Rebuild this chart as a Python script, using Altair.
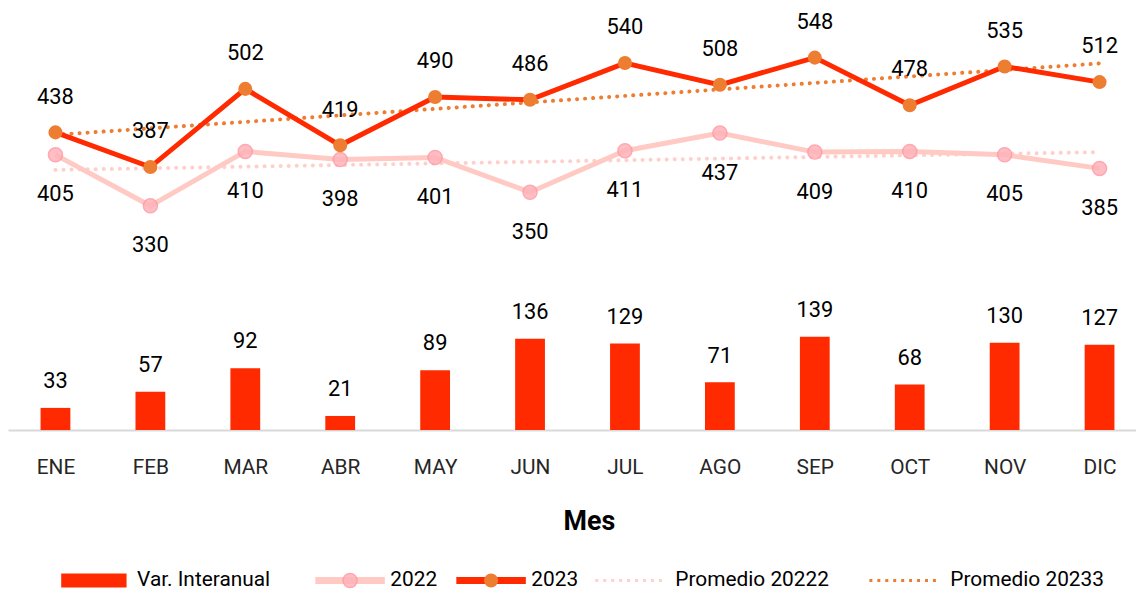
import altair as alt
import pandas as pd

meses = ["ENE", "FEB", "MAR", "ABR", "MAY", "JUN", "JUL", "AGO", "SEP", "OCT", "NOV", "DIC"]
v2022 = [405, 330, 410, 398, 401, 350, 411, 437, 409, 410, 405, 385]
v2023 = [438, 387, 502, 419, 490, 486, 540, 508, 548, 478, 535, 512]
var_inter = [33, 57, 92, 21, 89, 136, 129, 71, 139, 68, 130, 127]

df = pd.DataFrame({"idx": list(range(len(meses))), "mes": meses,
                   "v2022": v2022, "v2023": v2023, "var": var_inter})

FONT = "Roboto"
C_BAR = "#FF2A00"
C_2023 = "#FF2A00"
C_2023_PT = "#ED7D31"
C_2022 = "#FFC9C4"
C_2022_PT = "#FFB3BA"
C_T2022 = "#FFCFCB"
C_T2023 = "#ED7D31"

label_expr = "[" + ",".join(f"'{m}'" for m in meses) + "][datum.value]"

x = alt.X("idx:Q",
          scale=alt.Scale(domain=[-0.5, 11.384], nice=False, zero=False, padding=0),
          axis=alt.Axis(values=list(range(len(meses))), labelExpr=label_expr,
                        grid=False, ticks=False, domain=True, domainColor="#D9D9D9",
                        domainWidth=2, labelFont=FONT, labelFontSize=21,
                        labelColor="#262626", labelPadding=27, title="Mes",
                        titleFont=FONT, titleFontSize=27, titleFontWeight="bold",
                        titleColor="#000000", titleY=92, titleX=585,
                        titleBaseline="middle"))
yscale = alt.Scale(domain=[0, 618], nice=False, zero=True)
yscale_bar = alt.Scale(domain=[0, 625], nice=False, zero=True)

base = alt.Chart(df)
LY = 564


def leg(lx, path, size, sw=0, dash=None, offset=33, label_op=1):
    kw = dict(orient="none", legendX=lx, legendY=LY, title=None, labelFont=FONT,
              labelFontSize=21, labelColor="#000000", symbolType=path,
              symbolSize=size, symbolStrokeWidth=sw, labelOffset=offset,
              padding=0, labelOpacity=label_op)
    if dash:
        kw["symbolDash"] = dash
    return alt.Legend(**kw)


def col(name, color, legend):
    return alt.Color("serie:N", scale=alt.Scale(domain=[name], range=[color]), legend=legend)


LINE_PATH = "M-5,0H5"

bars = base.transform_calculate(serie="'Var. Interanual'").mark_bar(size=30).encode(
    x=x, y=alt.Y("var:Q", scale=yscale_bar, axis=None),
    color=col("Var. Interanual", C_BAR, leg(76, "M-4.7,-1H4.7V1H-4.7Z", 196, 0, offset=33)))
bar_lbl = base.mark_text(dy=-27, font=FONT, fontSize=22, color="#000000", baseline="middle").encode(
    x=x, y=alt.Y("var:Q", scale=yscale_bar, axis=None), text="var:Q")

t2022 = base.transform_regression("idx", "v2022", method="linear").transform_calculate(
    serie="'Promedio 20222'").mark_line(strokeDash=[0.1, 8], strokeCap="round", strokeWidth=4).encode(
    x=x, y=alt.Y("v2022:Q", scale=yscale, axis=None),
    color=col("Promedio 20222", C_T2022, leg(616, LINE_PATH, 196, 3, [3, 5], offset=35)))

l2022 = base.transform_calculate(serie="'2022'").mark_line(strokeWidth=5).encode(
    x=x, y=alt.Y("v2022:Q", scale=yscale, axis=None),
    color=col("2022", C_2022, leg(334, LINE_PATH, 196, 7, offset=30)))
p2022 = base.transform_calculate(serie="'2022'").mark_point(
    filled=True, size=200, opacity=0.85, stroke="#FF9AA5", strokeWidth=1.5).encode(
    x=x, y=alt.Y("v2022:Q", scale=yscale, axis=None),
    color=col("2022", C_2022_PT, leg(334, "circle", 200, 1.5, offset=30, label_op=0)))
lbl2022 = base.mark_text(dy=40, font=FONT, fontSize=22, color="#000000", baseline="middle").encode(
    x=x, y=alt.Y("v2022:Q", scale=yscale, axis=None), text="v2022:Q")

t2023 = base.transform_regression("idx", "v2023", method="linear").transform_calculate(
    serie="'Promedio 20233'").mark_line(strokeDash=[0.1, 8], strokeCap="round", strokeWidth=4).encode(
    x=x, y=alt.Y("v2023:Q", scale=yscale, axis=None),
    color=col("Promedio 20233", C_T2023, leg(892, LINE_PATH, 196, 3, [3, 5], offset=36)))

l2023 = base.transform_calculate(serie="'2023'").mark_line(strokeWidth=5).encode(
    x=x, y=alt.Y("v2023:Q", scale=yscale, axis=None),
    color=col("2023", C_2023, leg(476, LINE_PATH, 196, 7, offset=30)))
p2023 = base.transform_calculate(serie="'2023'").mark_circle(size=200, opacity=1).encode(
    x=x, y=alt.Y("v2023:Q", scale=yscale, axis=None),
    color=col("2023", C_2023_PT, leg(476, "circle", 200, 0, offset=30, label_op=0)))
lbl2023 = base.mark_text(dy=-36, font=FONT, fontSize=22, color="#000000", baseline="middle").encode(
    x=x, y=alt.Y("v2023:Q", scale=yscale, axis=None), text="v2023:Q")

chart = alt.layer(
    bars, bar_lbl, t2022, l2022, p2022, lbl2022, t2023, l2023, p2023, lbl2023
).resolve_scale(color="independent", y="independent").resolve_legend(color="independent").properties(
    width=1136, height=423,
    autosize=alt.AutoSizeParams(type="none"),
    padding={"left": 0, "right": 0, "top": 0, "bottom": 160},
    background="white",
).configure_view(stroke=None)

chart.save("out.html", embed_options={"renderer": "svg", "actions": False})
